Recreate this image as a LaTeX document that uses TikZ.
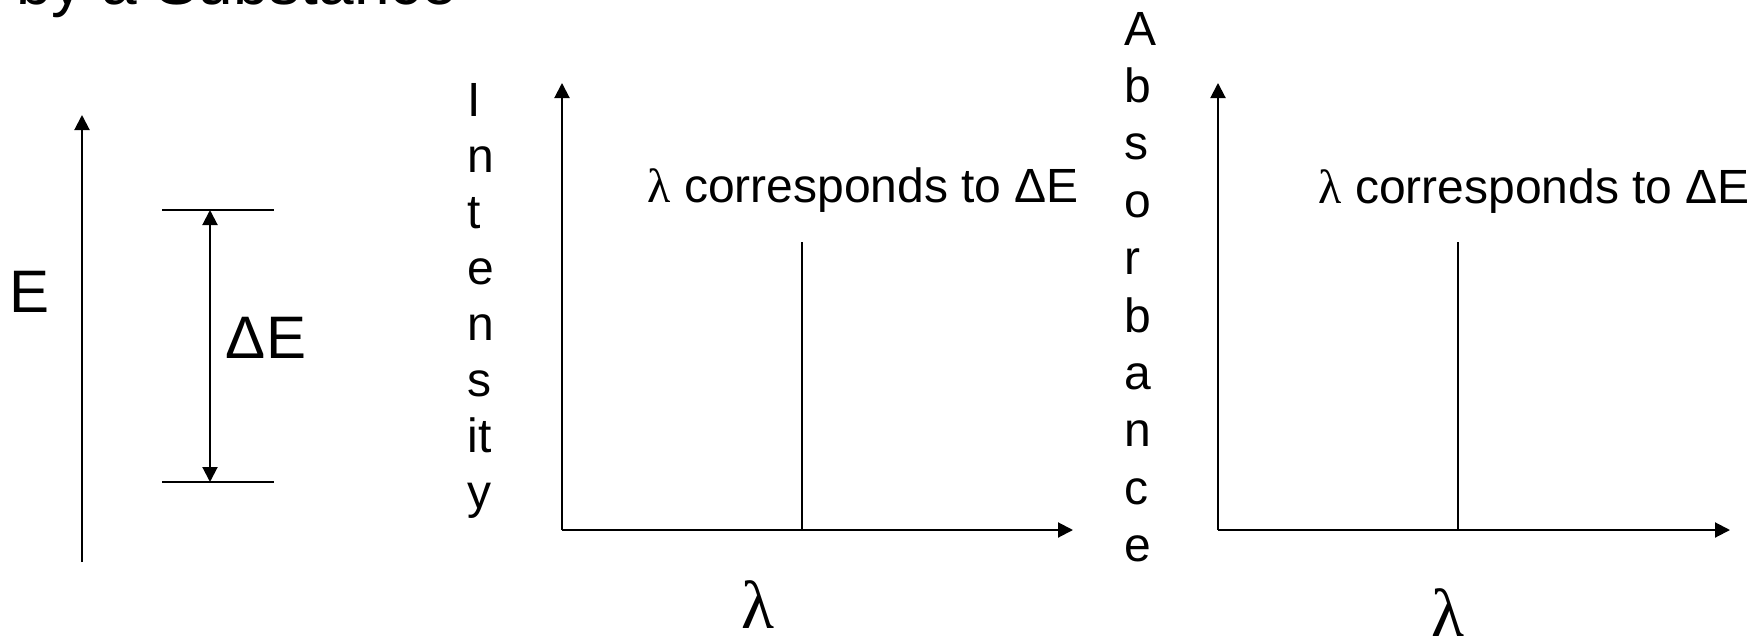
\documentclass[tikz,border=0pt]{standalone}
\usepackage{fontspec}
\setmainfont{Liberation Sans}
\newfontfamily\lamfont{Liberation Serif}
\usetikzlibrary{arrows.meta}
\begin{document}
\begin{tikzpicture}[x=0.5pt,y=-0.5pt,
  tip/.style={Triangle[length=7.5pt,width=7.5pt]},
  axis/.style={line width=1pt,-{Triangle[length=7.5pt,width=7.5pt]}},
  fine/.style={line width=0.7pt},
  lbl/.style={inner sep=0pt,font=\fontsize{24}{28}\selectfont},
  biglbl/.style={inner sep=0pt,font=\fontsize{30}{36}\selectfont},
  lamlbl/.style={inner sep=0pt,font=\fontsize{34}{40}\selectfont\lamfont},
  titlelbl/.style={inner sep=0pt,font=\fontsize{32}{38}\selectfont}]
\useasboundingbox (0,0) rectangle (1762,637);
\clip (0,0) rectangle (1762,637);

% cut title
\node[titlelbl,anchor=base west] (title) at (16,4) {by a Substance};

% energy diagram
\coordinate (Ebot) at (82,562);
\coordinate (Etop) at (82,115);
\draw[axis] (Ebot) -- (Etop);
\coordinate (L1a) at (162,210);
\coordinate (L1b) at (274,210);
\coordinate (L2a) at (162,482);
\coordinate (L2b) at (274,482);
\draw[fine] (L1a) -- (L1b);
\draw[fine] (L2a) -- (L2b);
\coordinate (dEt) at (210,210);
\coordinate (dEb) at (210,482);
\draw[line width=1pt,{Triangle[length=7.5pt,width=7.5pt]}-{Triangle[length=7.5pt,width=7.5pt]}] (dEb) -- (dEt);
\node[biglbl] (Elbl) at (30,292) {E};
\node[biglbl] (dElbl) at (266,338) {ΔE};

% graph 1: intensity
\coordinate (o1) at (562,530);
\coordinate (y1) at (562,83);
\coordinate (x1) at (1073,530);
\draw[axis] (o1) -- (y1);
\draw[axis] (o1) -- (x1);
\coordinate (p1b) at (802,530);
\coordinate (p1t) at (802,242);
\draw[fine] (p1b) -- (p1t);
\node[lbl,anchor=base west] (t1) at (647,202) {{\lamfont λ} corresponds to ΔE};
\node[lamlbl] (lam1) at (758,605) {λ};
\foreach \c [count=\i from 0] in {I,n,t,e,n,s,it,y}
  \node[lbl,anchor=base west] (int\i) at ({467},{116+56*\i}) {\c};

% graph 2: absorbance
\coordinate (o2) at (1218,530);
\coordinate (y2) at (1218,83);
\coordinate (x2) at (1730,530);
\draw[axis] (o2) -- (y2);
\draw[axis] (o2) -- (x2);
\coordinate (p2b) at (1458,530);
\coordinate (p2t) at (1458,242);
\draw[fine] (p2b) -- (p2t);
\node[lbl,anchor=base west] (t2) at (1318,203) {{\lamfont λ} corresponds to ΔE};
\node[lamlbl] (lam2) at (1448,613) {λ};
\foreach \c [count=\i from 0] in {A,b,s,o,r,b,a,n,c,e}
  \node[lbl,anchor=base west] (abs\i) at ({1124},{45+57.4*\i}) {\c};
\end{tikzpicture}
\end{document}
